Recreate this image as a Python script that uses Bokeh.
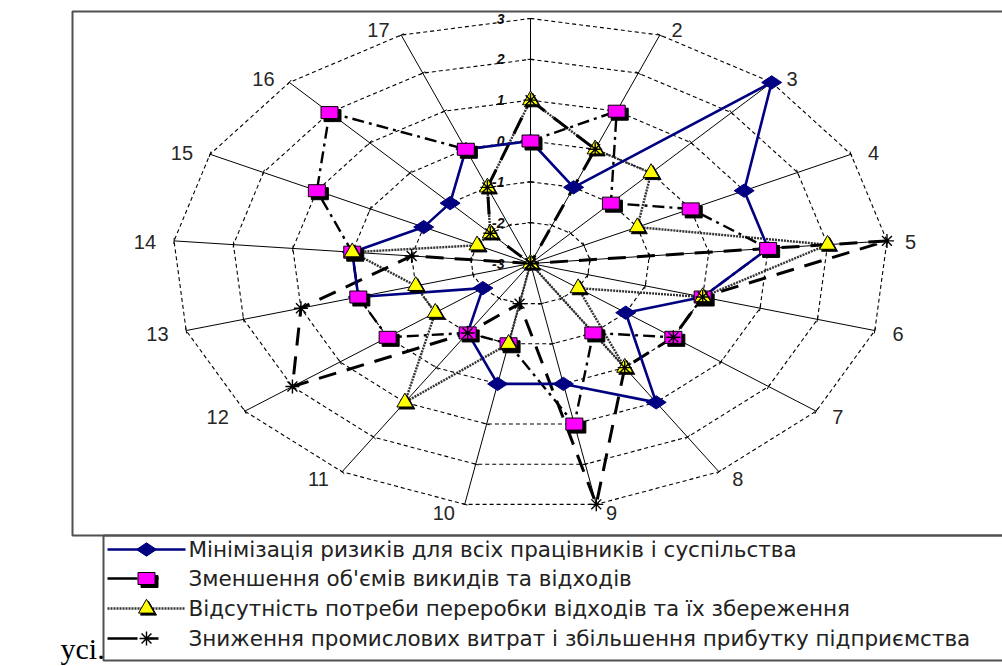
import numpy as np
from bokeh.plotting import figure
from bokeh.models import Range1d
from bokeh.embed import file_html
from bokeh.resources import INLINE
from bokeh.core.properties import value

# ---------------- data ----------------
axis_labels = [str(i) for i in range(1, 18)]
levels = [-3, -2, -1, 0, 1, 2, 3]
level_labels = ["-3", "-2", "-1", "0", "1", "2", "3"]

s1_name = "Мінімізація ризиків для всіх працівників і суспільства"
s2_name = "Зменшення об'ємів викидів та відходів"
s3_name = "Відсутність потреби переробки відходів та їх збереження"
s4_name = "Зниження промислових витрат і збільшення прибутку підприємства"

s1 = [0, -1, 3, 1, 1, 0, -1, 1, 0, 0, -1, -2, 0, 0, -1, -1, 0]
s2 = [0, 1, -1, 0, 1, 0, 0, -1, 1, -1, -1, 0, 0, 0, 1, 2, 0]
s3 = [1, 0, 0, -1, 2, 0, -2, 0, -3, -1, 1, -1, -1, 0, -2, -2, -1]
s4 = [1, 0, -3, -3, 3, 0, 0, 0, 3, -2, -1, 2, 1, -1, -3, -2, -1]

# ---------------- geometry ----------------
W, H = 1002, 666
CX, CY = 530, 263          # centre of the radar in pixels
RX, RY = 358, 245          # outer ring radii (pixels)
VMIN, VMAX = levels[0], levels[-1]

n = len(axis_labels)
theta = np.arange(n) * 2 * np.pi / n
st, ct = np.sin(theta), np.cos(theta)


def frac(v):
    return (np.asarray(v, dtype=float) - VMIN) / (VMAX - VMIN)


def polar(vals):
    f = frac(vals)
    return RX * f * st, RY * f * ct


def px(x):
    return x - CX


def py(y):
    return CY - y


p = figure(width=W, height=H, output_backend="svg", toolbar_location=None,
           x_range=Range1d(-CX, W - CX), y_range=Range1d(-(H - CY), CY),
           x_axis_type=None, y_axis_type=None, min_border=0)
p.grid.visible = False
p.outline_line_color = None
p.background_fill_color = "white"
p.border_fill_color = "white"

# ---------------- frames ----------------
fl, fr, ll = px(72), px(1040), px(103)
ft, fs, fb = py(11), py(535), py(660)
p.multi_line(xs=[[fr, fl, fl, fr], [fr, ll, ll, fr]],
             ys=[[ft, ft, fs, fs], [fs, fs, fb, fb]],
             line_color="#505050", line_width=2)

# ---------------- ring level labels ----------------
p.text(x=[-26] * len(levels), y=list(RY * frac(levels)), text=level_labels,
       text_align="right", text_baseline="middle",
       text_font=value("Liberation Sans"), text_font_style="bold italic",
       text_font_size="14px", text_color="#111111")

# ---------------- rings ----------------
ring_xs, ring_ys = [], []
for lv in levels[1:]:
    f = frac(lv)
    ring_xs.append(list(RX * f * np.append(st, st[0])))
    ring_ys.append(list(RY * f * np.append(ct, ct[0])))
p.multi_line(ring_xs, ring_ys, line_color="black", line_width=1.1, line_dash="4 3")

# ---------------- spokes ----------------
ex, ey = RX * st, RY * ct
p.segment(x0=[0] * n, y0=[0] * n, x1=list(ex), y1=list(ey), line_color="black", line_width=1)

# ticks on spokes
dl = np.hypot(ex, ey)
nx, ny = -ey / dl, ex / dl
tx0, ty0, tx1, ty1 = [], [], [], []
for lv in levels[1:]:
    f = frac(lv)
    bx, by = ex * f, ey * f
    tx0 += list(bx - 3 * nx); ty0 += list(by - 3 * ny)
    tx1 += list(bx + 3 * nx); ty1 += list(by + 3 * ny)
p.segment(x0=tx0, y0=ty0, x1=tx1, y1=ty1, line_color="black", line_width=1)

# ---------------- axis labels ----------------
gap = 8 + 10 * np.abs(st)
sgn = np.where(st > 0.01, 1, -1)
lab_x = ex + sgn * gap
lab_y = ey + 7 * ct - 1.5
right_idx = [i for i in range(1, n) if st[i] > 0.01]
left_idx = [i for i in range(1, n) if st[i] <= 0.01]
for idx, al in ((right_idx, "left"), (left_idx, "right")):
    p.text(x=list(lab_x[idx]), y=list(lab_y[idx]), text=[axis_labels[i] for i in idx],
           text_align=al, text_baseline="middle", text_font=value("Liberation Sans"),
           text_font_size="20px", text_color="#262626")

# ---------------- series lines ----------------
def closed(vals):
    x, y = polar(vals)
    return list(np.append(x, x[0])), list(np.append(y, y[0]))

x3, y3 = closed(s3)
p.line(x3, y3, line_color="#333333", line_width=2.4, line_dash="2 1")
x2, y2 = closed(s2)
p.line(x2, y2, line_color="black", line_width=2.4, line_dash="12 5 3 5")
x4, y4 = closed(s4)
p.line(x4, y4, line_color="black", line_width=3, line_dash="18 11")
x1, y1 = closed(s1)
p.line(x1, y1, line_color="#000080", line_width=2.6)

# ---------------- markers ----------------
def diamond(x, y):
    p.scatter(x, y, marker="diamond", angle=np.pi / 2, size=20,
              fill_color="#000080", line_color="#000080")


def square(x, y):
    p.rect([v + 3 for v in x], [v - 3 for v in y], width=17, height=12,
           width_units="screen", height_units="screen",
           fill_color="black", line_color="black")
    p.rect(x, y, width=17, height=12, width_units="screen", height_units="screen",
           fill_color="#FF00FF", line_color="black", line_width=1)


def triangle(x, y):
    p.scatter([v + 2 for v in x], [v - 2 for v in y], marker="triangle", size=16,
              fill_color="black", line_color="black")
    p.scatter(x, y, marker="triangle", size=16, fill_color="#FFFF00",
              line_color="black", line_width=1)


def star(x, y):
    p.scatter(x, y, marker="asterisk", size=14, line_color="black", line_width=1.4)


m1 = polar(s1); diamond(list(m1[0]), list(m1[1]))
m2 = polar(s2); square(list(m2[0]), list(m2[1]))
m3 = polar(s3); triangle(list(m3[0]), list(m3[1]))
m4 = polar(s4); star(list(m4[0]), list(m4[1]))

# ---------------- legend ----------------
rows = [py(549), py(578), py(608), py(638)]
lx0, lx1, lxm, ltx = px(107), px(185), px(146), px(188)
p.line([lx0, lx1], [rows[0]] * 2, line_color="#000080", line_width=2.6)
diamond([lxm], [rows[0]])
p.line([lx0, lx1], [rows[1]] * 2, line_color="black", line_width=2.4, line_dash="30 9 12")
square([lxm], [rows[1]])
p.line([lx0, lx1], [rows[2]] * 2, line_color="#333333", line_width=2.4, line_dash="2 1")
triangle([lxm], [rows[2]])
p.line([lx0, lx1], [rows[3]] * 2, line_color="black", line_width=2.6, line_dash="30 9 12")
star([lxm], [rows[3]])
p.text(x=[ltx] * 4, y=rows, text=[s1_name, s2_name, s3_name, s4_name],
       text_align="left", text_baseline="middle", text_font=value("DejaVu Sans"),
       text_font_size="21.5px", text_color="#222222")

# footnote text left of the legend box
p.text(x=[px(60)], y=[py(648)], text=["усі."], text_align="left",
       text_baseline="alphabetic", text_font=value("Liberation Serif"),
       text_font_size="30px", text_color="black")

open("out.html", "w").write(file_html(p, INLINE))
